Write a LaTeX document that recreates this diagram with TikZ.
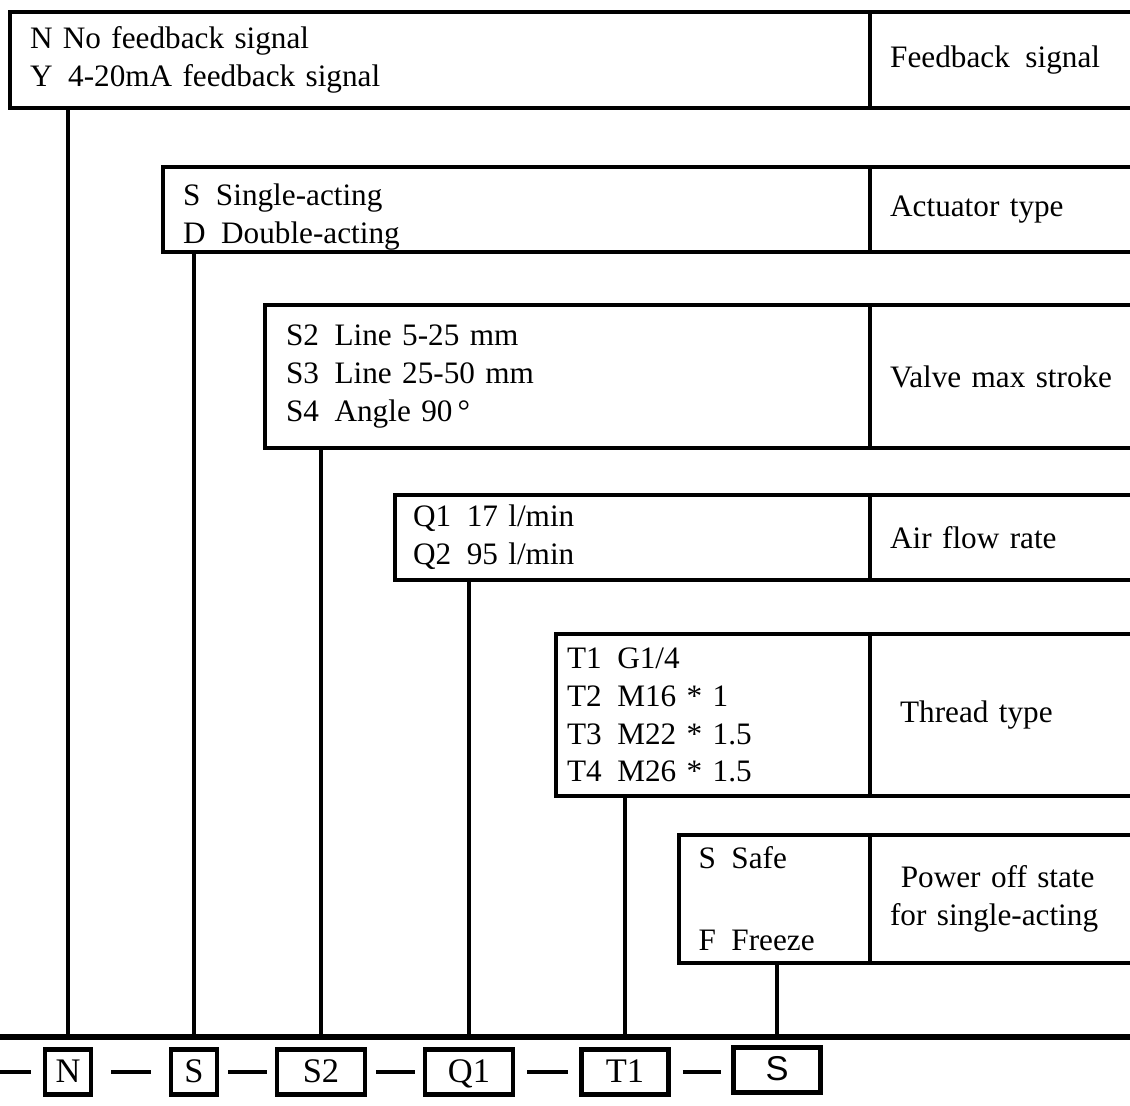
\documentclass[tikz,border=0pt]{standalone}
\usepackage{fontspec}
\setmainfont{Liberation Serif}
\newfontfamily\arialfont{Liberation Sans}
\usetikzlibrary{positioning,calc}

\begin{document}
\begin{tikzpicture}[
  x=0.025cm, y=-0.025cm,
  font=\fontsize{22.2}{26.9}\selectfont,
  opt/.style={draw,line width=3.2pt,anchor=north west,align=left,outer sep=0pt,
              inner xsep=0.5cm,inner ysep=0pt},
  cat/.style={draw,line width=3.2pt,anchor=north west,align=left,outer sep=0pt,
              minimum width=8cm,text width=7cm,inner xsep=0.5cm,inner ysep=0pt},
  code/.style={draw,line width=3.3pt,minimum height=1.12cm,inner sep=0pt,
               text height=0.6cm,text depth=0.1cm,
               font=\fontsize{24.5}{28}\selectfont},
  lnk/.style={line width=2.4pt},
  bus/.style={line width=3.6pt},
  hyph/.style={line width=3.2pt}
]
\clip (0,0) rectangle (1130,1105);
% ---- option rows ----
\node[opt,minimum width=21.5cm,minimum height=2.4cm,text width=20.5cm] (fbopt) at (10,12)
  {N No feedback signal\\Y\enspace 4-20mA feedback signal};
\node[cat,minimum height=2.4cm] (fbcat) at (fbopt.north east) {Feedback\enspace signal};
\node[opt,minimum width=17.675cm,minimum height=2.125cm,text width=16.675cm] (actopt) at (163,167)
  {\rule{0pt}{0.9cm}S\enspace Single-acting\\D\enspace Double-acting};
\node[cat,minimum height=2.125cm] (actcat) at (actopt.north east) {Actuator type};
\node[opt,minimum width=15.125cm,minimum height=3.575cm,text width=14.075cm,inner xsep=0.525cm] (strkopt) at (265,305)
  {S2\enspace Line 5-25 mm\\S3\enspace Line 25-50 mm\\S4\enspace Angle 90\,°};
\node[cat,minimum height=3.575cm] (strkcat) at (strkopt.north east) {Valve max stroke};
\node[opt,minimum width=11.875cm,minimum height=2.125cm,text width=10.975cm,inner xsep=0.45cm] (flowopt) at (395,495)
  {Q1\enspace 17 l/min\\Q2\enspace 95 l/min};
\node[cat,minimum height=2.125cm] (flowcat) at (flowopt.north east) {Air flow rate};
\node[opt,minimum width=7.85cm,minimum height=4.05cm,text width=7.3cm,inner xsep=0.275cm] (thropt) at (556,634)
  {T1\enspace G1/4\\T2\enspace M16 * 1\\T3\enspace M22 * 1.5\\T4\enspace M26 * 1.5};
\node[cat,minimum height=4.05cm] (thrcat) at (thropt.north east) {\hspace*{0.25cm}Thread type};
\node[opt,minimum width=4.775cm,minimum height=3.2cm,text width=3.8cm,inner xsep=0.4875cm] (pwropt) at (679,835)
  {S\enspace Safe\\[1.1cm]F\enspace Freeze};
\node[cat,minimum height=3.2cm] (pwrcat) at (pwropt.north east)
  {\hspace*{0.27cm}Power off state\\for single-acting};
% ---- code row ----
\coordinate (busw) at (0,1037);
\coordinate (buse) at (1130,1037);
\coordinate (lead) at (0,1072);
\node[code,minimum width=1.15cm] (codefb)   at (68,1072)  {N};
\node[code,minimum width=1.15cm] (codeact)  at (194,1072) {S};
\node[code,minimum width=2.2cm]  (codestrk) at (321,1072) {S2};
\node[code,minimum width=2.2cm]  (codeflow) at (469,1072) {Q1};
\node[code,minimum width=2.175cm] (codethr)  at (625,1072) {T1};
\node[code,minimum width=2.175cm] (codepwr)  at (777,1070) {\arialfont S};
% ---- edges ----
\draw[bus] (busw) -- (buse);
\draw[lnk] (codefb   |- fbopt.south)   -- (codefb   |- busw);
\draw[lnk] (codeact  |- actopt.south)  -- (codeact  |- busw);
\draw[lnk] (codestrk |- strkopt.south) -- (codestrk |- busw);
\draw[lnk] (codeflow |- flowopt.south) -- (codeflow |- busw);
\draw[lnk] (codethr  |- thropt.south)  -- (codethr  |- busw);
\draw[lnk] (codepwr  |- pwropt.south)  -- (codepwr  |- busw);
\draw[hyph,shorten >=0.3cm] (lead) -- (codefb.west);
\draw[hyph,shorten <=0.45cm,shorten >=0.45cm] (codefb.east) -- (codeact.west);
\draw[hyph,shorten <=0.22cm,shorten >=0.2cm] (codeact.east) -- (codestrk.west);
\draw[hyph,shorten <=0.22cm,shorten >=0.2cm] (codestrk.east) -- (codeflow.west);
\draw[hyph,shorten <=0.3cm,shorten >=0.28cm] (codeflow.east) -- (codethr.west);
\draw[hyph,shorten <=0.3cm,shorten >=0.25cm] (codethr.east) -- (codepwr.west|-codethr.east);
\end{tikzpicture}
\end{document}
